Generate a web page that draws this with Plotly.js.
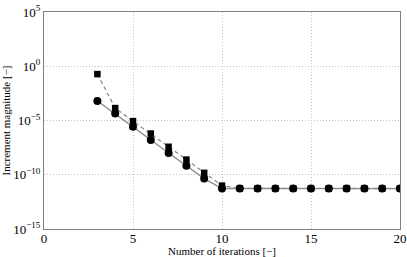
<!DOCTYPE html>
<html><head><meta charset="utf-8">
<script src="https://cdn.plot.ly/plotly-3.0.1.min.js"></script>
<style>html,body{margin:0;padding:0;background:#fff}</style>
</head><body><div id="chart" style="width:407px;height:257px"></div>
<script>
const iterations = [3,4,5,6,7,8,9,10,11,12,13,14,15,16,17,18,19,20];
const squareSeries = [1.9e-1,1.4e-4,8.7e-6,6.3e-7,3.8e-8,2.5e-9,1.5e-10,1.0e-11,5.5e-12,5.5e-12,5.4e-12,5.4e-12,5.4e-12,5.4e-12,5.4e-12,5.4e-12,5.4e-12,5.4e-12];
const circleSeries = [6.3e-4,4.4e-5,2.6e-6,1.6e-7,1.0e-8,6.6e-10,4.4e-11,5.4e-12,5.4e-12,5.3e-12,5.3e-12,5.3e-12,5.3e-12,5.3e-12,5.3e-12,5.3e-12,5.3e-12,5.3e-12];
const yTickVals = [1e5,1e0,1e-5,1e-10,1e-15];
const yTickText = ['10<sup>5</sup>','10<sup>0</sup>','10<sup>−5</sup>','10<sup>−10</sup>','10<sup>−15</sup>'];
const xTickVals = [0,5,10,15,20];
const serif = 'Liberation Serif, Times New Roman, serif';

const traces = [
  {x: iterations, y: squareSeries, mode:'lines+markers', type:'scatter',
   line:{color:'#8c8c8c', width:1.3, dash:'4px,3px'},
   marker:{symbol:'square', size:6.5, color:'#000'}},
  {x: iterations, y: circleSeries, mode:'lines+markers', type:'scatter',
   line:{color:'#8c8c8c', width:1.3},
   marker:{symbol:'circle', size:8, color:'#000'}}
];
const axisCommon = {showline:true, mirror:true, linecolor:'#7f7f7f', linewidth:1,
  showgrid:true, gridcolor:'#c4c4c4', griddash:'1px,2px', gridwidth:1, zeroline:false,
  ticks:'', tickfont:{family:serif, size:13, color:'#000'}};
const layout = {
  width:407, height:257, margin:{l:44, r:7, t:12, b:28},
  paper_bgcolor:'#fff', plot_bgcolor:'#fff', showlegend:false,
  font:{family:serif, color:'#000'},
  xaxis: Object.assign({}, axisCommon, {range:[0,20], tickvals:xTickVals, ticklabelstandoff:-3,
    title:{text:'Number of iterations [−]', font:{size:11, family:serif}, standoff:1}}),
  yaxis: Object.assign({}, axisCommon, {type:'log', range:[-15,5], tickvals:yTickVals, ticktext:yTickText,
    title:{text:'Increment magnitude [−]', font:{size:11, family:serif}, standoff:3}})
};
Plotly.newPlot('chart', traces, layout, {staticPlot:true, displayModeBar:false});
</script></body></html>
